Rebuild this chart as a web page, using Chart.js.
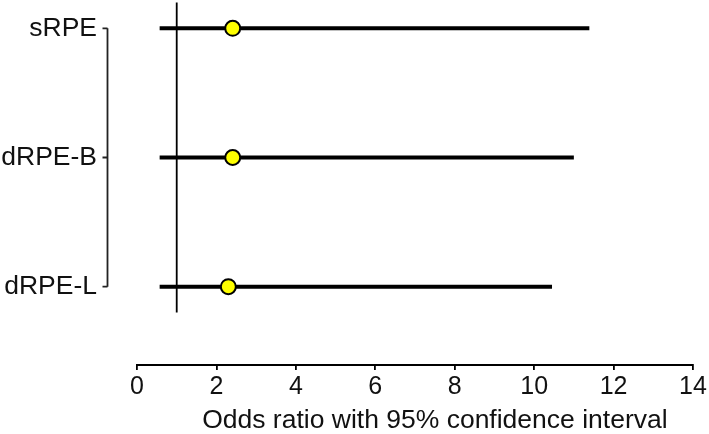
<!DOCTYPE html>
<html>
<head>
<meta charset="utf-8">
<script src="https://cdn.jsdelivr.net/npm/chart.js@4"></script>
<style>
  html, body { margin: 0; padding: 0; background: #fff; }
  #wrap { width: 709px; height: 434px; }
</style>
</head>
<body>
<div id="wrap"><canvas id="forestChart"></canvas></div>
<script>
// forest plot: odds ratios with 95% CI

const categories = ['sRPE', 'dRPE-B', 'dRPE-L'];
const oddsRatio = [2.41, 2.41, 2.30];
const ciLower = [0.57, 0.57, 0.57];
const ciUpper = [11.39, 11.0, 10.45];
const xTicks = [0, 2, 4, 6, 8, 10, 12, 14];
const refValue = 1;

const FONT = "'Liberation Sans', Arial, Helvetica, sans-serif";

// rows from top to bottom: sRPE = 3, dRPE-B = 2, dRPE-L = 1
const rowY = categories.map((c, i) => categories.length - i);

const ciSets = categories.map((c, i) => ({
  type: 'line',
  data: [{x: ciLower[i], y: rowY[i]}, {x: ciUpper[i], y: rowY[i]}],
  borderColor: '#000',
  borderWidth: 4,
  pointRadius: 0,
  borderCapStyle: 'butt',
  order: 2
}));

const refSet = {
  type: 'line',
  data: [{x: refValue, y: rowY[0] + 0.2}, {x: refValue, y: rowY[rowY.length - 1] - 0.2}],
  borderColor: '#000',
  borderWidth: 1.8,
  pointRadius: 0,
  clip: false,
  order: 3
};

const pointSet = {
  type: 'scatter',
  data: categories.map((c, i) => ({x: oddsRatio[i], y: rowY[i]})),
  backgroundColor: '#ffff00',
  borderColor: '#000',
  borderWidth: 2,
  pointRadius: 7.5,
  pointHoverRadius: 7.5,
  order: 1
};

// bracket-like y spine with left ticks, offset from the plot
const ySpine = {
  id: 'ySpine',
  afterDraw(chart) {
    const y = chart.scales.y;
    const ctx = chart.ctx;
    const sx = chart.chartArea.left - 29.5;
    const top = y.getPixelForValue(rowY[0]);
    const bot = y.getPixelForValue(rowY[rowY.length - 1]);
    ctx.save();
    ctx.strokeStyle = '#222';
    ctx.lineWidth = 1.8;
    ctx.beginPath();
    ctx.moveTo(sx, top);
    ctx.lineTo(sx, bot);
    rowY.forEach(v => {
      const py = y.getPixelForValue(v);
      ctx.moveTo(sx, py);
      ctx.lineTo(sx - 5, py);
    });
    ctx.stroke();
    ctx.restore();
  }
};

const ctx = document.getElementById('forestChart').getContext('2d');

new Chart(ctx, {
  data: { datasets: [...ciSets, refSet, pointSet] },
  options: {
    responsive: true,
    maintainAspectRatio: false,
    animation: false,
    layout: { autoPadding: false, padding: { left: 0, right: 16, top: 0, bottom: 0 } },
    plugins: {
      legend: { display: false },
      tooltip: { enabled: false }
    },
    scales: {
      x: {
        type: 'linear',
        position: 'bottom',
        min: 0,
        max: 14,
        afterBuildTicks: s => { s.ticks = xTicks.map(v => ({value: v})); },
        afterFit: s => { s.height = 69; },
        border: { display: true, color: '#000', width: 2 },
        grid: { drawOnChartArea: false, drawTicks: true, tickLength: 5, color: '#000', lineWidth: 1.8 },
        ticks: { color: '#111', padding: 2, maxRotation: 0, font: { family: FONT, size: 25 } },
        title: {
          display: true,
          // en spaces nudge the centred title right, as in the original
          text: '\u2002\u2002\u2002Odds ratio with 95% confidence interval',
          color: '#111',
          padding: 0,
          font: { family: FONT, size: 26.5, lineHeight: 1.0 }
        }
      },
      y: {
        type: 'linear',
        position: 'left',
        min: 0.394,
        max: 3.219,
        afterBuildTicks: s => { s.ticks = rowY.map(v => ({value: v})); },
        afterFit: s => { s.width = 137; s.paddingTop = 0; s.paddingBottom = 0; },
        border: { display: false },
        grid: { display: false, drawTicks: false },
        ticks: {
          color: '#111',
          padding: 40,
          font: { family: FONT, size: 26.5 },
          callback: v => categories[rowY.indexOf(v)]
        }
      }
    }
  },
  plugins: [ySpine]
});
</script>
</body>
</html>
